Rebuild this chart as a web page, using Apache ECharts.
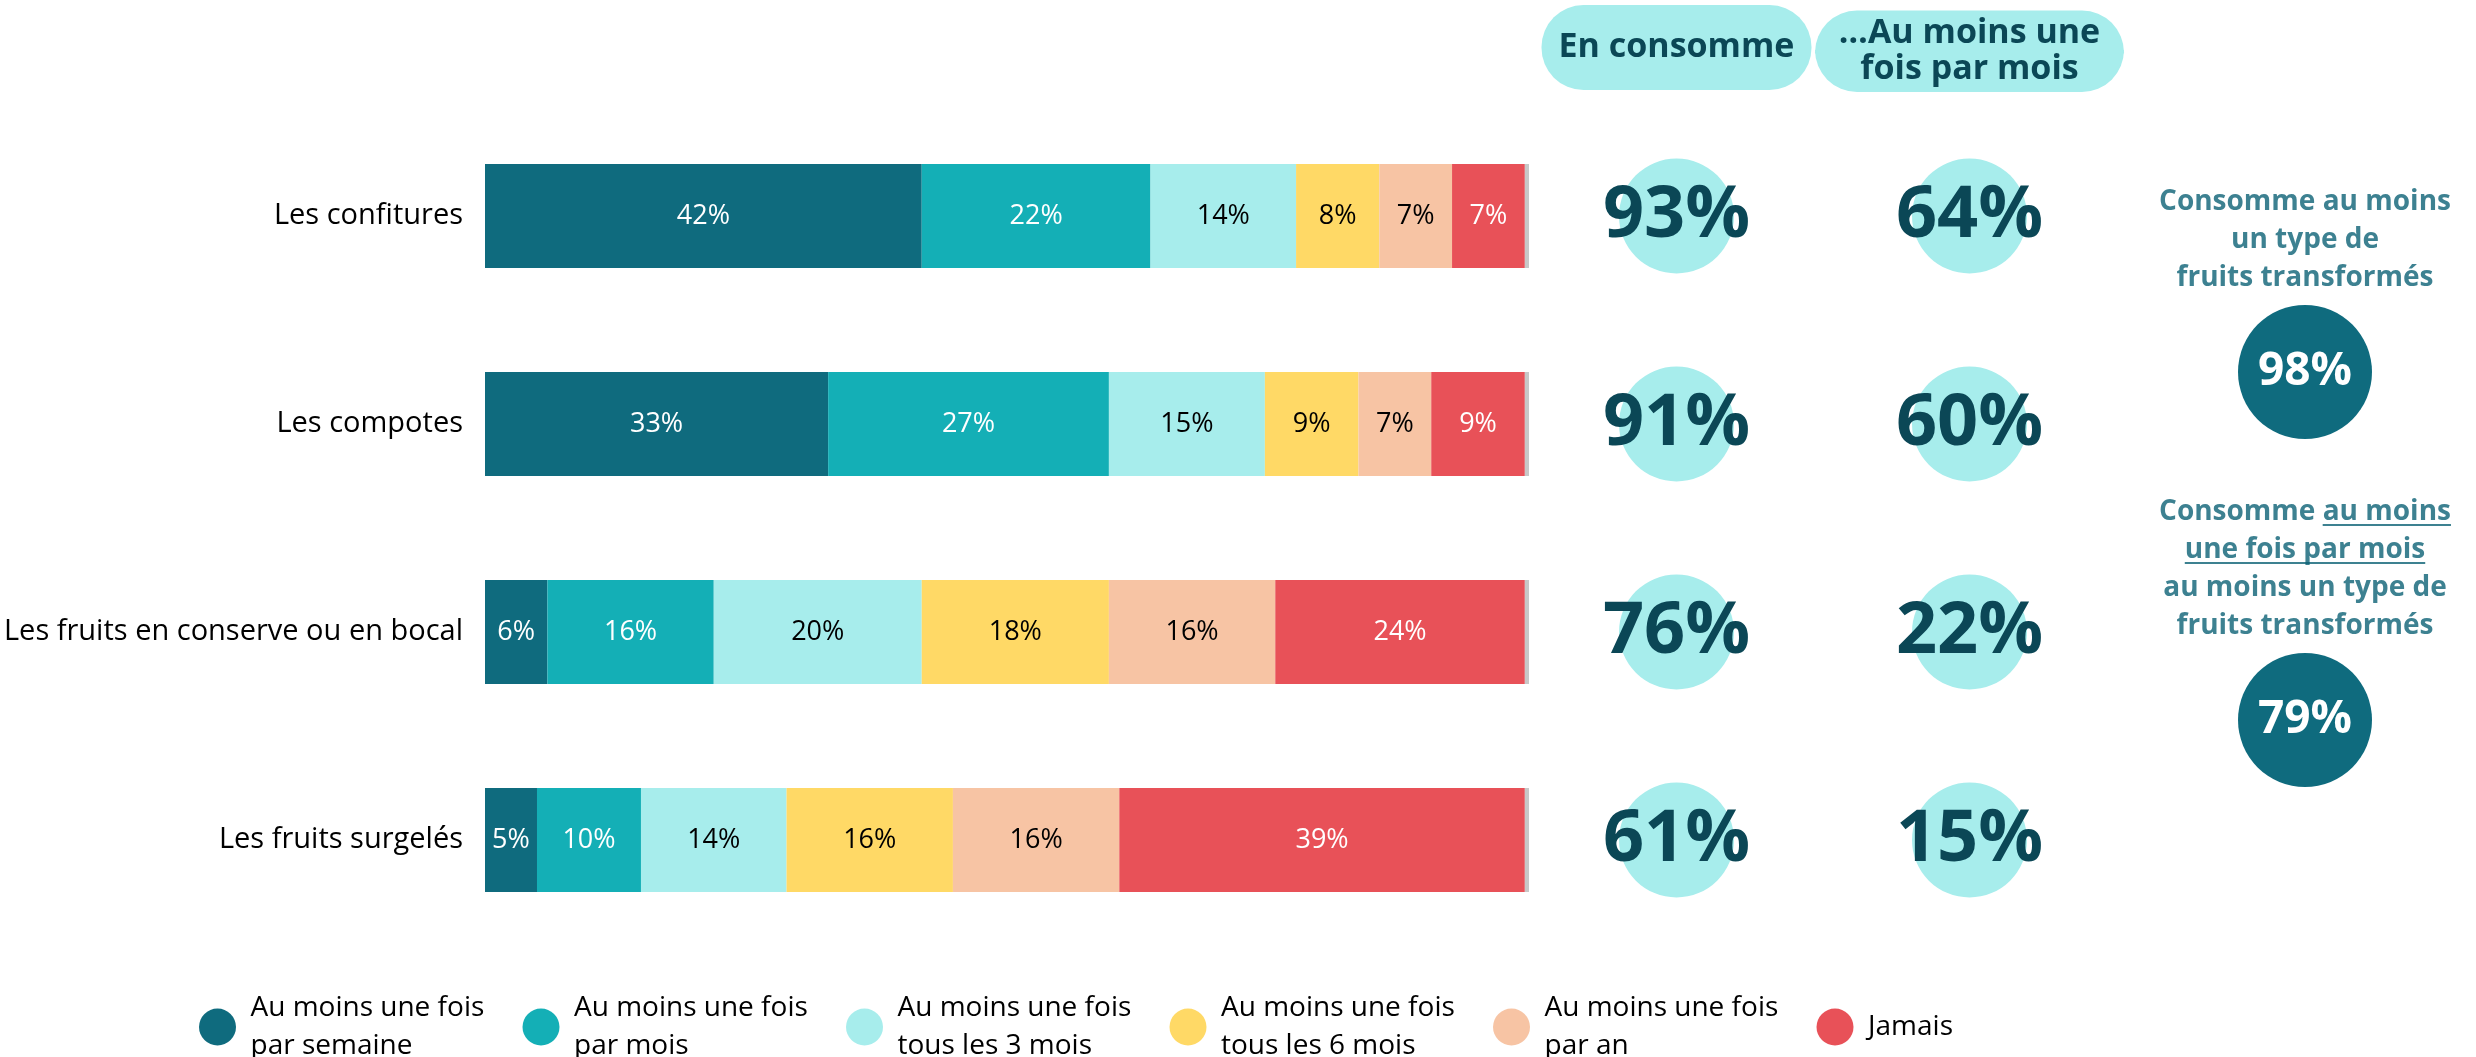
<!DOCTYPE html>
<html>
<head>
<meta charset="utf-8">
<script src="https://cdn.jsdelivr.net/npm/echarts@6/dist/echarts.min.js"></script>
<style>
  html, body { margin: 0; padding: 0; background: #ffffff; }
  #chart { width: 2476px; height: 1057px; }
</style>
</head>
<body>
<div id="chart"></div>
<script>
// données
var categories = ['Les confitures', 'Les compotes', 'Les fruits en conserve ou en bocal', 'Les fruits surgelés'];
var frequencies = [
  'Au moins une fois\npar semaine',
  'Au moins une fois\npar mois',
  'Au moins une fois\ntous les 3 mois',
  'Au moins une fois\ntous les 6 mois',
  'Au moins une fois\npar an',
  'Jamais'
];
var weekly = [42, 33, 6, 5];
var monthly = [22, 27, 16, 10];
var threeMonths = [14, 15, 20, 14];
var sixMonths = [8, 9, 18, 16];
var yearly = [7, 7, 16, 16];
var never = [7, 9, 24, 39];
var noAnswer = [0.4, 0.4, 0.4, 0.4];

var columns = ['En consomme', '…Au moins une\nfois par mois'];
var consumes = [93, 91, 76, 61];
var consumesMonthly = [64, 60, 22, 15];

var summaryLabels = [
  'Consomme au moins\nun type de\nfruits transformés',
  'Consomme au moins\nune fois par mois\nau moins un type de\nfruits transformés'
];
var summaryValues = [98, 79];

var FONT = '"Open Sans", "Noto Sans", sans-serif';
var colors = ['#0F6B7E', '#14AFB6', '#A7EDEC', '#FFD966', '#F7C4A4', '#E85158'];
var labelColors = ['#ffffff', '#ffffff', '#000000', '#000000', '#000000', '#ffffff'];
var seriesData = [weekly, monthly, threeMonths, sixMonths, yearly, never];
var headColor = '#0D6275';

function makeBarSeries() {
  var list = [];
  for (var i = 0; i < seriesData.length; i++) {
    list.push({
      name: frequencies[i],
      type: 'bar',
      stack: 'total',
      barWidth: 104,
      itemStyle: { color: colors[i] },
      label: {
        show: true,
        position: 'inside',
        formatter: '{c}%',
        color: labelColors[i],
        fontSize: 27,
        fontFamily: FONT
      },
      silent: true,
      data: seriesData[i]
    });
  }
  // petite part grise (sans réponse)
  list.push({
    name: 'nsp',
    type: 'bar',
    stack: 'total',
    barWidth: 104,
    itemStyle: { color: '#C8C8C8' },
    silent: true,
    data: noAnswer
  });
  return list;
}

var underline = new echarts.graphic.LinearGradient(0, 0, 0, 1, [
  { offset: 0, color: 'rgba(255,255,255,0)' },
  { offset: 0.82, color: 'rgba(255,255,255,0)' },
  { offset: 0.82, color: headColor },
  { offset: 0.88, color: headColor },
  { offset: 0.88, color: 'rgba(255,255,255,0)' },
  { offset: 1, color: 'rgba(255,255,255,0)' }
]);

var pillText = { fontSize: 34, fontWeight: 'bold', color: '#0B4756', fontFamily: FONT };

var option = {
  backgroundColor: '#ffffff',
  animation: false,
  textStyle: { fontFamily: FONT },
  legend: {
    data: frequencies,
    icon: 'circle',
    left: 194,
    top: 984,
    itemWidth: 56,
    itemHeight: 37,
    itemGap: 0,
    selectedMode: false,
    textStyle: { fontSize: 28, lineHeight: 38, width: 272, color: '#000000', fontFamily: FONT }
  },
  grid: [
    { left: 485, width: 1044, top: 112, height: 832 },
    { left: 1530, width: 586, top: 112, height: 832 },
    { left: 2255, width: 100, top: 198, height: 696 }
  ],
  xAxis: [
    { gridIndex: 0, type: 'value', min: 0, max: 100.4, show: false },
    {
      gridIndex: 1,
      type: 'category',
      position: 'top',
      data: columns,
      axisLine: { show: false },
      axisTick: { show: false },
      axisLabel: {
        interval: 0,
        margin: 22,
        formatter: function (v) {
          var lines = v.split('\n');
          if (lines.length === 1) return '{a|' + v + '}';
          return '{t|' + lines[0] + '}\n{b|' + lines[1] + '}';
        },
        rich: {
          a: Object.assign({
            width: 270, height: 85, lineHeight: 85, align: 'center',
            backgroundColor: '#A7EDEC', borderRadius: 42
          }, pillText),
          t: Object.assign({
            width: 309, height: 40, lineHeight: 40, padding: [3, 0, 0, 0], align: 'center',
            backgroundColor: '#A7EDEC', borderRadius: [42, 42, 0, 0]
          }, pillText),
          b: Object.assign({
            width: 309, height: 38, lineHeight: 38, padding: [0, 0, 4, 0], align: 'center',
            backgroundColor: '#A7EDEC', borderRadius: [0, 0, 42, 42]
          }, pillText)
        }
      }
    },
    { gridIndex: 2, type: 'category', data: ['total'], show: false }
  ],
  yAxis: [
    {
      gridIndex: 0,
      type: 'category',
      inverse: true,
      data: categories,
      axisLine: { show: false },
      axisTick: { show: false },
      axisLabel: { fontSize: 29, color: '#000000', margin: 22, fontFamily: FONT }
    },
    { gridIndex: 1, type: 'category', inverse: true, data: categories, show: false },
    { gridIndex: 2, type: 'category', inverse: true, data: summaryLabels, show: false }
  ],
  series: makeBarSeries().concat([
    {
      type: 'scatter',
      xAxisIndex: 1,
      yAxisIndex: 1,
      symbolSize: 115,
      itemStyle: { color: '#A7EDEC', opacity: 1 },
      silent: true,
      label: {
        show: true, position: 'inside',
        formatter: function (p) { return p.value[2] + '%'; },
        fontSize: 72, fontWeight: 'bold', color: '#0B4756', fontFamily: FONT
      },
      data: consumes.map(function (v, i) { return [columns[0], categories[i], v]; })
    },
    {
      type: 'scatter',
      xAxisIndex: 1,
      yAxisIndex: 1,
      symbolSize: 115,
      itemStyle: { color: '#A7EDEC', opacity: 1 },
      silent: true,
      label: {
        show: true, position: 'inside',
        formatter: function (p) { return p.value[2] + '%'; },
        fontSize: 72, fontWeight: 'bold', color: '#0B4756', fontFamily: FONT
      },
      data: consumesMonthly.map(function (v, i) { return [columns[1], categories[i], v]; })
    },
    {
      type: 'scatter',
      xAxisIndex: 2,
      yAxisIndex: 2,
      symbolSize: 134,
      itemStyle: { color: '#0F6B7E', opacity: 1 },
      silent: true,
      label: {
        show: true, position: 'inside',
        formatter: function (p) { return p.value[2] + '%'; },
        fontSize: 46, fontWeight: 'bold', color: '#ffffff', fontFamily: FONT
      },
      data: summaryValues.map(function (v, i) { return ['total', summaryLabels[i], v]; })
    },
    {
      // titres au-dessus des cercles
      type: 'scatter',
      xAxisIndex: 2,
      yAxisIndex: 2,
      symbolSize: 134,
      itemStyle: { color: 'rgba(255,255,255,0)' },
      silent: true,
      z: 5,
      label: {
        show: true, position: 'top', distance: 8,
        align: 'center',
        lineHeight: 38,
        fontSize: 28, fontWeight: 'bold', color: headColor, fontFamily: FONT,
        formatter: function (p) {
          var txt = p.value[1];
          if (p.dataIndex === 1) {
            txt = txt.replace('Consomme au moins\nune fois par mois', 'Consomme {u|au moins}\n{u|une fois par mois}');
          }
          return txt;
        },
        rich: {
          u: {
            fontSize: 28, fontWeight: 'bold', color: headColor, fontFamily: FONT,
            lineHeight: 38, height: 38, backgroundColor: underline
          }
        }
      },
      data: summaryValues.map(function (v, i) { return ['total', summaryLabels[i], v]; })
    }
  ])
};

var myChart = echarts.init(document.getElementById('chart'));
myChart.setOption(option);
</script>
</body>
</html>
